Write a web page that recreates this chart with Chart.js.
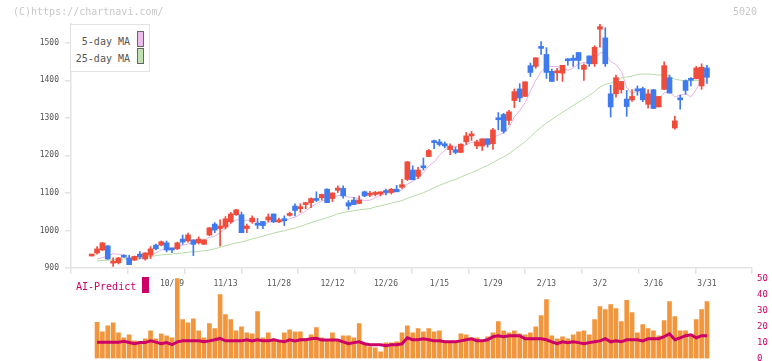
<!DOCTYPE html>
<html><head><meta charset="utf-8">
<script src="https://cdn.jsdelivr.net/npm/chart.js@4.4.1/dist/chart.umd.min.js"></script>
<style>
html,body{margin:0;padding:0;background:#fff;}
#wrap{position:relative;width:772px;height:361px;overflow:hidden;font-family:"DejaVu Sans Mono",monospace;}
canvas{position:absolute;left:0;top:0;}
.t{position:absolute;white-space:pre;line-height:10px;font-size:10px;}
.sw{position:absolute;width:5px;height:14px;border:1px solid #666;}
</style></head><body>
<div id="wrap">
<canvas id="main" width="772" height="361"></canvas>
<canvas id="vol" width="772" height="361"></canvas>
<div class="t" style="left:13px;top:7px;color:#c8c8c8;">(C)https://chartnavi.com/</div>
<div class="t" style="left:733px;top:7px;color:#c8c8c8;">5020</div>
<div style="position:absolute;left:70px;top:24px;width:78px;height:46px;border:1px solid #e2e2e2;background:#fff;">
  <div class="t" style="right:19px;top:12px;color:#555;">5-day MA</div>
  <div class="sw" style="left:66px;top:6px;background:#ecbdec;"></div>
  <div class="t" style="right:19px;top:29px;color:#555;">25-day MA</div>
  <div class="sw" style="left:66px;top:23px;background:#bfe0b0;"></div>
</div>
<div class="t" style="left:76px;top:282px;color:#cc0066;">AI-Predict</div>
<div style="position:absolute;left:142px;top:277px;width:7px;height:16px;background:#cc0066;"></div>
</div>
<script>
const dates = ['10/7','10/8','10/9','10/10','10/14','10/15','10/16','10/17','10/20','10/21','10/22','10/23','10/24','10/27','10/28','10/29','10/30','10/31','11/4','11/5','11/6','11/7','11/10','11/11','11/12','11/13','11/14','11/17','11/18','11/19','11/20','11/21','11/25','11/26','11/27','11/28','12/1','12/2','12/3','12/4','12/5','12/8','12/9','12/10','12/11','12/12','12/15','12/16','12/17','12/18','12/19','12/22','12/23','12/24','12/25','12/26','12/29','12/30','1/5','1/6','1/7','1/8','1/9','1/13','1/14','1/15','1/16','1/19','1/20','1/21','1/22','1/23','1/26','1/27','1/28','1/29','1/30','2/2','2/3','2/4','2/5','2/6','2/9','2/10','2/12','2/13','2/16','2/17','2/18','2/19','2/20','2/24','2/25','2/26','2/27','3/2','3/3','3/4','3/5','3/6','3/9','3/10','3/11','3/12','3/13','3/16','3/17','3/18','3/19','3/23','3/24','3/25','3/26','3/27','3/30','3/31'];
const tickLabels = ['10/29','11/13','11/28','12/12','12/26','1/15','1/29','2/13','3/2','3/16','3/31'];
const priceTicks = [900,1000,1100,1200,1300,1400,1500];
const volumeTicks = [0,10,20,30,40,50];

const opens = [932,940,948,959,913,914,934,927,921,937,924,934,961,961,967,952,951,977,972,975,967,963,988,1017,1005,1009,1023,1042,1042,1005,1023,1018,1024,1028,1044,1023,1028,1040,1065,1058,1069,1074,1085,1087,1110,1085,1107,1112,1074,1081,1072,1103,1094,1096,1097,1104,1101,1110,1115,1136,1161,1144,1172,1197,1236,1236,1231,1215,1215,1208,1236,1252,1225,1225,1244,1231,1299,1309,1293,1346,1377,1357,1439,1437,1488,1469,1424,1420,1419,1454,1459,1474,1429,1465,1444,1536,1513,1364,1364,1375,1350,1348,1374,1378,1336,1375,1329,1376,1407,1273,1350,1399,1402,1404,1385,1433];
const highs = [932,957,968,960,927,928,935,934,932,944,941,957,964,972,972,953,969,988,993,975,983,975,1008,1021,1028,1037,1048,1056,1049,1017,1039,1032,1024,1044,1044,1033,1039,1049,1071,1071,1074,1087,1103,1097,1111,1100,1119,1119,1080,1088,1092,1105,1104,1104,1103,1110,1112,1120,1136,1183,1172,1168,1193,1216,1241,1243,1236,1231,1222,1231,1261,1264,1241,1244,1244,1272,1314,1312,1320,1377,1391,1396,1446,1460,1503,1487,1430,1432,1440,1458,1467,1474,1444,1465,1492,1551,1540,1387,1414,1397,1373,1375,1385,1382,1375,1376,1357,1449,1414,1305,1361,1401,1407,1437,1444,1440];
const lows = [932,937,946,923,904,911,928,909,920,924,921,925,948,959,943,941,949,963,969,933,964,963,986,994,959,1004,1019,1040,994,994,1019,1005,1005,1023,1021,1021,1013,1038,1039,1048,1058,1061,1077,1081,1074,1077,1101,1086,1056,1069,1071,1090,1090,1092,1092,1095,1097,1103,1112,1133,1135,1138,1161,1197,1218,1225,1220,1202,1204,1207,1229,1240,1218,1213,1222,1216,1268,1259,1282,1327,1343,1357,1410,1432,1469,1405,1397,1400,1397,1440,1437,1430,1400,1437,1437,1488,1437,1302,1355,1366,1304,1344,1360,1343,1326,1325,1329,1375,1366,1270,1323,1363,1385,1404,1376,1392];
const closes = [932,951,967,924,916,927,929,909,931,929,940,951,951,970,948,948,967,969,988,963,977,975,1007,1001,1012,1031,1044,1055,994,1012,1033,1014,1013,1036,1023,1028,1026,1045,1053,1063,1072,1085,1080,1096,1074,1100,1113,1092,1065,1069,1081,1092,1096,1099,1103,1101,1110,1103,1122,1183,1135,1161,1167,1213,1234,1229,1225,1225,1208,1230,1252,1257,1236,1244,1229,1268,1295,1264,1316,1370,1353,1396,1421,1460,1485,1421,1397,1421,1440,1452,1453,1453,1440,1444,1488,1543,1444,1329,1407,1397,1330,1357,1372,1348,1364,1325,1357,1439,1366,1292,1348,1373,1400,1433,1435,1408];
const ma5 = [null,924,928,931,938,937,932.6,921,922.4,925,927.6,932,940.4,948.2,952,953.6,956.8,960.4,964,967,972.8,974.4,982,984.6,994.4,1005.2,1019,1028.6,1027.2,1027.2,1027.6,1021.6,1013.2,1021.6,1023.8,1022.8,1025.2,1031.6,1035,1043,1051.8,1063.6,1070.6,1079.2,1081.4,1087,1092.6,1095,1088.8,1087.8,1084,1079.8,1080.6,1087.4,1094.2,1098.2,1101.8,1103.2,1107.8,1123.8,1130.6,1140.8,1153.6,1171.8,1182,1200.8,1213.6,1225.2,1224.2,1223.4,1228,1234.4,1236.6,1243.8,1243.6,1246.8,1254.4,1260,1274.4,1302.6,1319.6,1339.8,1371.2,1400,1423,1436.6,1436.8,1436.8,1432.8,1426.2,1432.6,1443.8,1447.6,1448.4,1455.6,1473.6,1471.8,1449.6,1442.2,1424,1381.4,1364,1372.6,1360.8,1354.2,1353.2,1353.2,1366.6,1370.2,1355.8,1360.4,1363.6,1355.8,1375.6,1404.2,1416.2];
const ma25 = [null,919,920,921,922,923,924,924,925,926,928,930,933,935,936,937,939,940,942,943,944,946,948,951,955.3,959.2,963,966.5,969.3,973.1,977.4,980.8,984.9,989.1,992.9,996.4,999.4,1003.2,1006.5,1011.1,1016,1020.8,1025.2,1029.5,1034,1038.9,1044.4,1047.8,1050.4,1052.6,1054.6,1056.6,1058.2,1062.4,1066,1068.8,1072.6,1076.2,1079.6,1086,1090.3,1095.7,1100.6,1107,1113.8,1120.1,1125.7,1131.5,1136,1142.2,1148.3,1154.1,1159.8,1167,1173.4,1180.9,1189,1195.7,1204.4,1215.1,1225.2,1236.6,1249.3,1262.8,1274.9,1286.4,1295.8,1306,1315,1323.8,1332.7,1341.8,1350.4,1359.9,1370.2,1381.8,1389.3,1393,1399.6,1406.3,1408.8,1411.2,1415.6,1416.8,1416.6,1415.5,1413.9,1414.6,1410.9,1403.2,1400.2,1399.3,1398.4,1399.4,1398.8,1397];
const volume = [null,22.5,16.7,20.4,22.3,16,12.9,14.8,11,10.4,12.3,17.3,12.3,15.4,14.2,12.9,50,24.2,22.3,24.8,17.3,12.9,21.7,18.6,39.9,27.4,24.2,17.3,19.8,16,15.4,29.2,12.9,16,12.3,11,16,17.9,16.7,16.7,12.3,14.8,19.2,12.9,11.6,16,11.6,14.2,14.2,12.9,21.7,9.1,7.2,6.6,4.1,9.7,9.7,10.4,16,20.4,16,18.6,16.7,18.6,16.7,17.3,10.4,10.4,10.4,15.4,14.8,12.9,12.9,10.4,13.5,16,23,17.3,16,17.3,15.4,14.8,16,19.8,26.7,36.8,14.2,12.3,13.5,12.3,14.8,16.7,17.3,14.8,24.2,32.4,30.5,33.6,31.1,23,36.2,28.6,16,21.1,18.6,17.3,14.2,23.6,35.5,26.1,17.3,17.3,14.2,24.2,30.5,35.5];
const aiPredict = [null,10.2,10.2,10.2,10.2,10.2,10.8,10,9.2,9.9,9.9,11,10.2,9.2,9.9,8.6,10.4,11,11,11,11,10.4,11,11.7,12.5,11,11,11,11,11.7,11,11.7,11,11,11.7,11,10.4,11.7,11,11.7,11.7,12.3,12.6,11.5,11.5,11.5,11.5,10.4,9.2,9.9,10.4,9.2,8.6,8.6,8.6,8,8.6,8.6,9.2,12.9,11.7,11.7,12.3,11.7,11,11,10.4,10.4,10.4,11,11.7,12.3,11,11,11.7,13.6,14.2,13.6,14.2,14.2,14.2,12.3,12.3,12.3,12.3,11.7,10.4,9.2,10.4,9.9,10.4,9.9,9.2,9.9,10.4,11,12.3,10.4,11,10.4,11.7,11.7,11.7,11,12.3,12.3,12.3,13.6,15.4,11.7,12.9,14.2,14.8,12.9,14.2,14.2];

const UP = '#f04c3c', DOWN = '#3f7bef';
const candleColors = closes.map((c, i) => c >= opens[i] ? UP : DOWN);
const X_MIN = -3.87, X_MAX = 123.42;
const tickIdx = tickLabels.map(l => dates.indexOf(l));
const mono = { family: '"DejaVu Sans Mono", monospace', size: 8 };
const AX = '#e3e3e3';

new Chart(document.getElementById('main'), {
  type: 'bar',
  data: { datasets: [
    { type: 'line', label: '5-day MA', data: ma5.map((v, i) => ({ x: i, y: v })), borderColor: '#e8b2e8', borderWidth: 1, pointRadius: 0, order: 4, xAxisID: 'x', yAxisID: 'y' },
    { type: 'line', label: '25-day MA', data: ma25.map((v, i) => ({ x: i, y: v })), borderColor: '#b6dba6', borderWidth: 1, pointRadius: 0, order: 3, xAxisID: 'x', yAxisID: 'y' },
    { type: 'bar', label: 'wick', data: highs.map((h, i) => ({ x: i, y: [lows[i], h] })), backgroundColor: candleColors, barThickness: 1, grouped: false, order: 2, xAxisID: 'x', yAxisID: 'y' },
    { type: 'bar', label: 'body', data: opens.map((o, i) => ({ x: i, y: [o, closes[i]] })), backgroundColor: candleColors, barThickness: 5, minBarLength: 2, grouped: false, order: 1, xAxisID: 'x', yAxisID: 'y' }
  ]},
  options: {
    responsive: false, animation: false, events: [],
    layout: { padding: { left: 0, right: 20, top: 24, bottom: 0 } },
    plugins: { legend: { display: false }, tooltip: { enabled: false } },
    scales: {
      x: { type: 'linear', min: X_MIN, max: X_MAX, offset: false, position: 'bottom', weight: 1,
           grid: { display: false, drawTicks: false }, border: { display: false },
           afterBuildTicks: ax => { ax.ticks = tickIdx.map(v => ({ value: v })); },
           ticks: { callback: v => dates[v], font: mono, color: '#555', padding: 5, maxRotation: 0, autoSkip: false },
           afterFit: ax => { ax.height = 87; ax.paddingLeft = 0; ax.paddingRight = 0; } },
      xg: { type: 'linear', min: 0, max: 11, position: 'bottom', weight: 0,
            ticks: { display: false, stepSize: 1 },
            grid: { drawOnChartArea: false, tickLength: 6, color: AX, lineWidth: 1.5 },
            border: { color: AX, width: 1.5 },
            afterFit: ax => { ax.height = 6; ax.paddingLeft = 0; ax.paddingRight = 0; } },
      y: { min: 900, max: 1550, beginAtZero: false,
           afterBuildTicks: ax => { ax.ticks = priceTicks.map(v => ({ value: v })); },
           grid: { drawOnChartArea: false, tickLength: 6, color: AX, lineWidth: 1.5 },
           border: { color: AX, width: 1.5 },
           ticks: { font: mono, color: '#555', padding: 6, callback: v => String(v) },
           afterFit: ax => { ax.width = 71; ax.paddingTop = 0; ax.paddingBottom = 0; } }
    }
  }
});

new Chart(document.getElementById('vol'), {
  type: 'bar',
  data: { datasets: [
    { type: 'line', label: 'AI-Predict', data: aiPredict.map((v, i) => ({ x: i, y: v })), borderColor: '#cc0066', borderWidth: 3, pointRadius: 0, order: 1, xAxisID: 'x', yAxisID: 'y' },
    { type: 'bar', label: 'volume', data: volume.map((v, i) => ({ x: i, y: v })), backgroundColor: '#f2963e', barThickness: 4, order: 2, xAxisID: 'x', yAxisID: 'y' }
  ]},
  options: {
    responsive: false, animation: false, events: [],
    layout: { padding: { left: 71, right: 0, top: 278.3, bottom: 2.5 } },
    plugins: { legend: { display: false }, tooltip: { enabled: false } },
    scales: {
      x: { type: 'linear', display: false, min: X_MIN, max: X_MAX, offset: false },
      y: { position: 'right', min: 0, max: 50, beginAtZero: true,
           afterBuildTicks: ax => { ax.ticks = volumeTicks.map(v => ({ value: v })); },
           grid: { display: false, drawTicks: false }, border: { display: false },
           ticks: { font: { family: '"DejaVu Sans Mono", monospace', size: 9 }, color: '#cc0066', padding: 5, callback: v => String(v) },
           afterFit: ax => { ax.width = 20; ax.paddingTop = 0; ax.paddingBottom = 0; } }
    }
  }
});
</script>
</body></html>
